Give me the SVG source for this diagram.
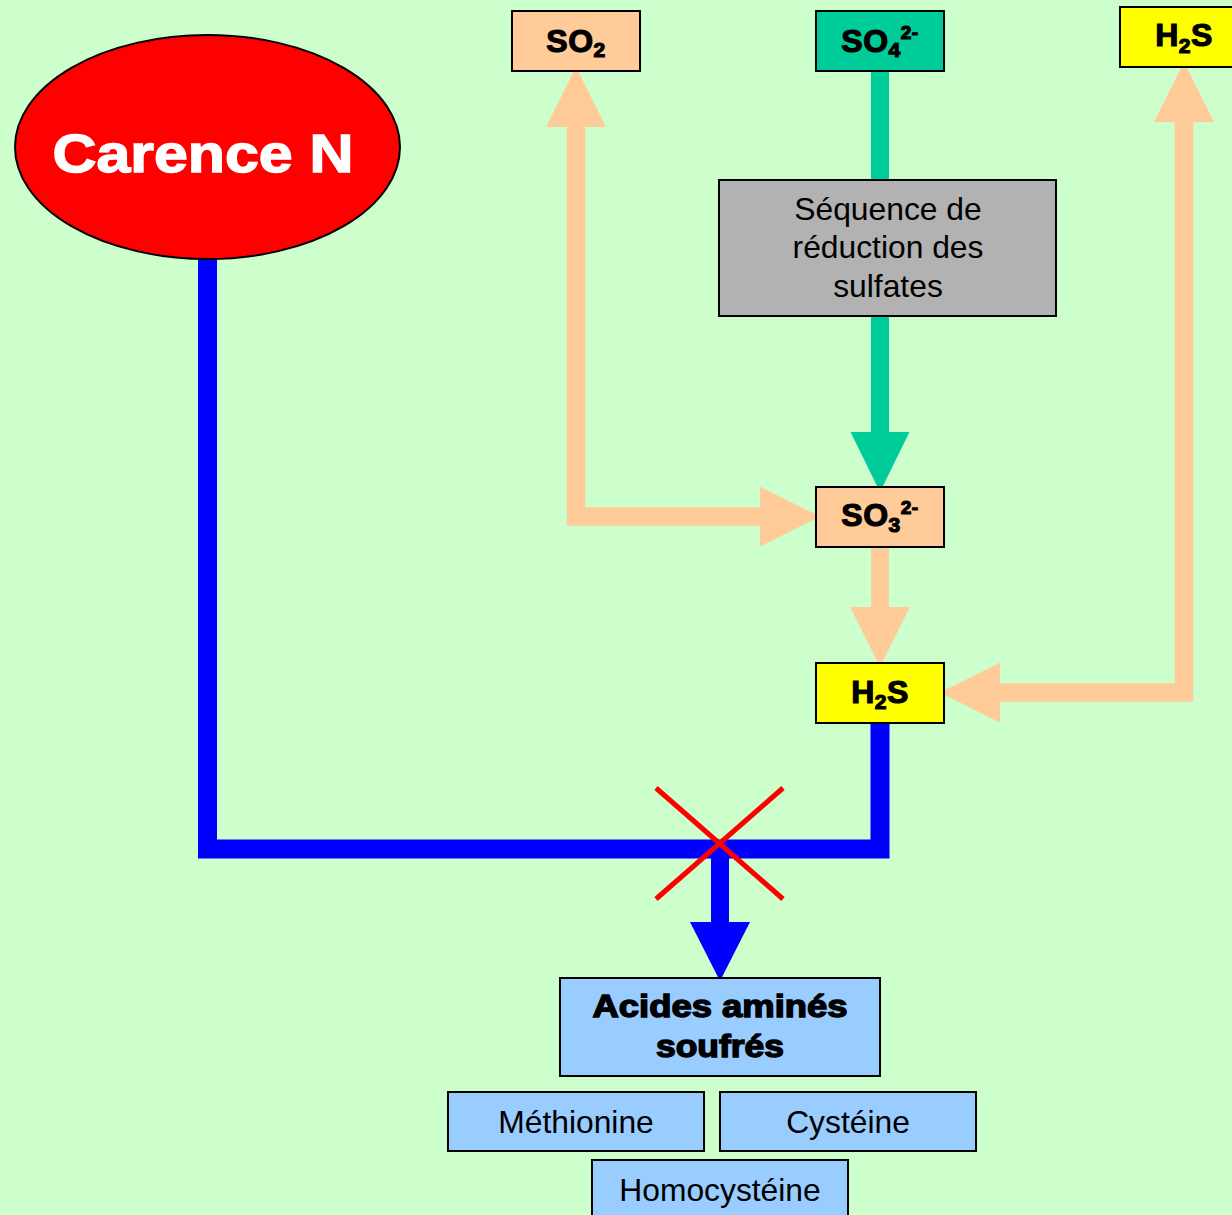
<svg xmlns="http://www.w3.org/2000/svg" width="1232" height="1215" viewBox="0 0 1232 1215">
<style>
.box{stroke:#000;stroke-width:2}
.peach{fill:#FFCC99}
.teal{fill:#00CC99}
.yellow{fill:#FFFF00}
.gray{fill:#B2B2B2}
.blue{fill:#99CCFF}
.chem{font-family:"Liberation Sans",Arial,sans-serif;font-weight:bold;font-size:32px;fill:#000;stroke:#000;stroke-width:1.2;text-anchor:middle;letter-spacing:0.5px}
.reg{font-family:"Liberation Sans",Arial,sans-serif;font-size:31.8px;fill:#000;text-anchor:middle}
.heavy{font-family:"Liberation Sans",Arial,sans-serif;font-weight:bold;fill:#000;stroke:#000;stroke-width:1.4;text-anchor:middle}
.conn{fill:none;stroke-linejoin:miter;stroke-linecap:butt}
</style>
<defs>
<marker id="hPeach" markerUnits="userSpaceOnUse" markerWidth="60" markerHeight="60" refX="0" refY="28" orient="auto-start-reverse" overflow="visible" viewBox="0 0 56 56">
<path d="M0,0 L56,28 L0,56 z" fill="#FFCC99"/>
</marker>
<marker id="hTeal" markerUnits="userSpaceOnUse" markerWidth="60" markerHeight="60" refX="0" refY="27" orient="auto" overflow="visible" viewBox="0 0 55 54">
<path d="M0,0 L55,27 L0,54 z" fill="#00CC99"/>
</marker>
<marker id="hBlue" markerUnits="userSpaceOnUse" markerWidth="60" markerHeight="60" refX="0" refY="28" orient="auto" overflow="visible" viewBox="0 0 55 56">
<path d="M0,0 L55,28 L0,56 z" fill="#0000FF"/>
</marker>
</defs>
<rect x="0" y="0" width="1232" height="1215" fill="#CCFFCC"/>
<g id="connectors">
<path class="conn" d="M880,71 V432" stroke="#00CC99" stroke-width="18" marker-end="url(#hTeal)"/>
<path class="conn" d="M576,127 V516.5 H760" stroke="#FFCC99" stroke-width="18.5" marker-start="url(#hPeach)" marker-end="url(#hPeach)"/>
<path class="conn" d="M880,547 V607" stroke="#FFCC99" stroke-width="18" marker-end="url(#hPeach)"/>
<path class="conn" d="M1184,122 V692.5 H1000" stroke="#FFCC99" stroke-width="18.5" marker-start="url(#hPeach)" marker-end="url(#hPeach)"/>
<path class="conn" d="M880,723 V849 H207.5 V258" stroke="#0000FF" stroke-width="19"/>
<path class="conn" d="M720,849 V922" stroke="#0000FF" stroke-width="18" marker-end="url(#hBlue)"/>
<g id="blocked" stroke="#FF0000" stroke-width="5">
<line x1="656" y1="788" x2="783" y2="899"/>
<line x1="783" y1="788" x2="656" y2="899"/>
</g>
</g>
<g id="carence">
<ellipse cx="207.5" cy="147" rx="192.5" ry="112" fill="#FF0000" stroke="#000" stroke-width="2"/>
<text x="203" y="172" class="heavy" font-size="53" style="fill:#fff;stroke:#fff" textLength="301" lengthAdjust="spacingAndGlyphs">Carence N</text>
</g>
<g id="so2">
<rect class="box peach" x="512" y="11" width="128" height="60"/>
<text class="chem" x="576" y="52">SO<tspan font-size="21" dy="5">2</tspan></text>
</g>
<g id="so4">
<rect class="box teal" x="816" y="11" width="128" height="60"/>
<text class="chem" x="880" y="52">SO<tspan font-size="21" dy="5">4</tspan><tspan font-size="19" dy="-18">2-</tspan></text>
</g>
<g id="h2s-top">
<rect class="box yellow" x="1120" y="7" width="120" height="60"/>
<text class="chem" x="1184" y="46">H<tspan font-size="21" dy="7">2</tspan><tspan dy="-7">S</tspan></text>
</g>
<g id="sequence">
<rect class="box gray" x="719" y="180" width="337" height="136"/>
<text class="reg" x="888" y="220">Séquence de</text>
<text class="reg" x="888" y="258">réduction des</text>
<text class="reg" x="888" y="297">sulfates</text>
</g>
<g id="so3">
<rect class="box peach" x="816" y="487" width="128" height="60"/>
<text class="chem" x="880" y="526">SO<tspan font-size="21" dy="6">3</tspan><tspan font-size="19" dy="-18">2-</tspan></text>
</g>
<g id="h2s-mid">
<rect class="box yellow" x="816" y="663" width="128" height="60"/>
<text class="chem" x="880" y="703">H<tspan font-size="21" dy="6">2</tspan><tspan dy="-6">S</tspan></text>
</g>
<g id="acides">
<rect class="box blue" x="560" y="978" width="320" height="98"/>
<text class="heavy" x="720" y="1017" font-size="31" textLength="255" lengthAdjust="spacingAndGlyphs">Acides aminés</text>
<text class="heavy" x="720" y="1057" font-size="31" textLength="128" lengthAdjust="spacingAndGlyphs">soufrés</text>
</g>
<g id="methionine">
<rect class="box blue" x="448" y="1092" width="256" height="59"/>
<text class="reg" x="576" y="1133">Méthionine</text>
</g>
<g id="cysteine">
<rect class="box blue" x="720" y="1092" width="256" height="59"/>
<text class="reg" x="848" y="1133">Cystéine</text>
</g>
<g id="homocysteine">
<rect class="box blue" x="592" y="1160" width="256" height="70"/>
<text class="reg" x="720" y="1201">Homocystéine</text>
</g>
</svg>
